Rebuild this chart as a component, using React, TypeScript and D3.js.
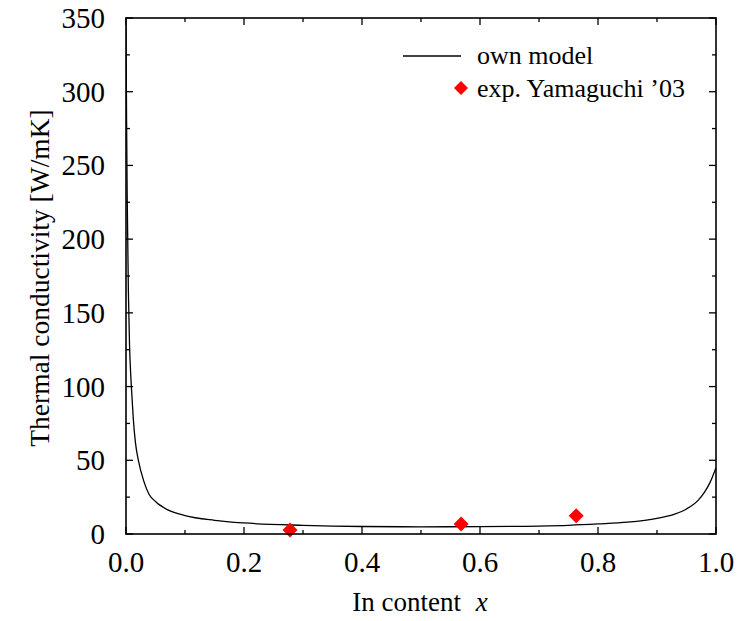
import React from "react";
import * as d3 from "d3";

const modelX = [0, 0.001, 0.002, 0.004, 0.006, 0.008, 0.01, 0.0124, 0.016, 0.021, 0.03, 0.039, 0.05, 0.07, 0.1, 0.15, 0.2, 0.3, 0.4, 0.5, 0.6, 0.7, 0.75, 0.8, 0.85, 0.9, 0.93, 0.95, 0.97, 0.98, 0.99, 1.0];
const modelY = [345, 280, 230, 165, 128, 108, 94, 78, 62, 50, 36, 27, 22, 16.5, 12.5, 9.3, 7.5, 5.9, 5.1, 4.9, 5.0, 5.4, 5.9, 6.8, 8.0, 10.6, 13.5, 17, 23, 28, 35, 45];

const expX = [0.278, 0.568, 0.763];
const expY = [2.7, 6.8, 12.4];

const xMajor = [0, 0.2, 0.4, 0.6, 0.8, 1.0];
const xMinor = [0.1, 0.3, 0.5, 0.7, 0.9];
const yMajor = [0, 50, 100, 150, 200, 250, 300, 350];
const yMinor = [25, 75, 125, 175, 225, 275, 325];

export default function App() {
  const W = 738, H = 621;
  const L = 126, R = 716, T = 18, B = 534;
  const x = d3.scaleLinear().domain([0, 1]).range([L, R]);
  const y = d3.scaleLinear().domain([0, 350]).range([B, T]);
  const line = d3.line<number>().x((_, i) => x(modelX[i])).y((d) => y(d)).curve(d3.curveMonotoneX);
  const font = "'Liberation Serif', 'Times New Roman', Times, serif";
  const diamond = (cx: number, cy: number, r: number) => `M${cx},${cy - r}L${cx + r},${cy}L${cx},${cy + r}L${cx - r},${cy}Z`;
  return (
    <svg width={W} height={H} style={{ position: "absolute", left: 0, top: 0, background: "#fff", fontFamily: font }}>
      <defs>
        <clipPath id="clip"><rect x={L} y={T} width={R - L} height={B - T} /></clipPath>
      </defs>
      <path d={line(modelY) || ""} fill="none" stroke="#000" strokeWidth={1.3} clipPath="url(#clip)" />
      {expX.map((d, i) => (
        <path key={i} d={diamond(x(d), y(expY[i]), 7.5)} fill="#ff0000" />
      ))}
      {xMajor.map((d) => (
        <g key={"xM" + d}>
          <line x1={x(d)} x2={x(d)} y1={B} y2={B - 7} stroke="#000" strokeWidth={1.3} />
          <line x1={x(d)} x2={x(d)} y1={T} y2={T + 7} stroke="#000" strokeWidth={1.3} />
          <text x={x(d)} y={572} fontSize={29} textAnchor="middle">{d.toFixed(1)}</text>
        </g>
      ))}
      {xMinor.map((d) => (
        <g key={"xm" + d}>
          <line x1={x(d)} x2={x(d)} y1={B} y2={B - 4} stroke="#000" strokeWidth={1.3} />
          <line x1={x(d)} x2={x(d)} y1={T} y2={T + 4} stroke="#000" strokeWidth={1.3} />
        </g>
      ))}
      {yMajor.map((d) => (
        <g key={"yM" + d}>
          <line x1={L} x2={L + 7} y1={y(d)} y2={y(d)} stroke="#000" strokeWidth={1.3} />
          <line x1={R} x2={R - 7} y1={y(d)} y2={y(d)} stroke="#000" strokeWidth={1.3} />
          <text x={105} y={y(d) + 10} fontSize={29} textAnchor="end">{d}</text>
        </g>
      ))}
      {yMinor.map((d) => (
        <g key={"ym" + d}>
          <line x1={L} x2={L + 4} y1={y(d)} y2={y(d)} stroke="#000" strokeWidth={1.3} />
          <line x1={R} x2={R - 4} y1={y(d)} y2={y(d)} stroke="#000" strokeWidth={1.3} />
        </g>
      ))}
      <rect x={L} y={T} width={R - L} height={B - T} fill="none" stroke="#000" strokeWidth={1.6} />
      <text x={420} y={611} fontSize={27} textAnchor="middle">
        In content <tspan fontStyle="italic" dx={8}>x</tspan>
      </text>
      <text transform={`translate(49,${278}) rotate(-90)`} fontSize={27.5} textAnchor="middle">Thermal conductivity [W/mK]</text>
      <line x1={403} x2={461} y1={56} y2={56} stroke="#000" strokeWidth={1.3} />
      <text x={477} y={64} fontSize={26}>own model</text>
      <path d={diamond(461, 88, 7)} fill="#ff0000" />
      <text x={477} y={97} fontSize={26}>exp. Yamaguchi ’03</text>
    </svg>
  );
}
